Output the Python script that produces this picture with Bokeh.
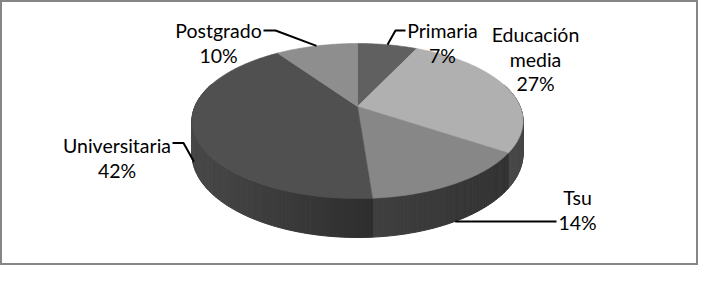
import numpy as np
from bokeh.plotting import figure
from bokeh.models import Range1d
from bokeh.core.properties import value
from bokeh.embed import file_html
from bokeh.resources import INLINE

# ---------------- data ----------------
categories = ["Primaria", "Educación media", "Tsu", "Universitaria", "Postgrado"]
shares = [7.0, 27.4, 14.4, 41.6, 9.6]

# ---------------- style ----------------
top_colors = ["#606060", "#b0b0b0", "#878787", "#505050", "#8e8e8e"]
side_left = ["#505050", "#4a4a4a", "#3f3f3f", "#484848", "#555555"]
side_right = ["#404040", "#464646", "#333333", "#2e2e2e", "#454545"]

label_pos = [(442, 30), (535, 34), (577, 197), (116.5, 145), (218, 30)]
line_gap = 24.5
leader_elbows = [[(405, 30), (395, 30)], None, [(556, 221)],
                 [(172, 142.5), (183, 142.5)], [(263, 30), (275, 30)]]
leader_depth = [0.0, 0.0, 1.0, 0.85, 0.0]

# pie projection (page pixels)
CX, CY = 357.0, 106.0
A, B = 162.6, 74.8
P = 0.187
D = 31.7


def proj(theta):
    u = np.sin(theta)
    v = np.cos(theta)
    k = 1.0 / (1.0 + P * v)
    return CX + A * u * k, CY - B * v * k, D * k, v


total = float(sum(shares))
fr = np.array(shares) / total
cum = np.concatenate([[0.0], np.cumsum(fr)])
angles = cum * 2 * np.pi

p = figure(width=698, height=265, x_range=Range1d(0, 698), y_range=Range1d(265, 0),
           output_backend="svg", toolbar_location=None, min_border=0)
p.axis.visible = False
p.grid.visible = False
p.outline_line_color = "#868686"
p.outline_line_width = 3
p.background_fill_color = "white"
p.border_fill_color = "white"


def hex2rgb(h):
    h = h.lstrip("#")
    return np.array([int(h[i:i + 2], 16) for i in (0, 2, 4)], dtype=float)


def rgb2hex(c):
    return "#%02x%02x%02x" % tuple(int(round(x)) for x in c)


# ---- sides ----
strips = []
for i in range(len(shares)):
    t0, t1 = angles[i], angles[i + 1]
    n = max(4, int((t1 - t0) / (2 * np.pi) * 360))
    th = np.linspace(t0, t1, n + 1)
    x, y, d, v = proj(th)
    vis = v < 0.3
    if not vis.any():
        continue
    xmin, xmax = x[vis].min(), x[vis].max()
    cl, cr = hex2rgb(side_left[i]), hex2rgb(side_right[i])
    for j in range(n):
        if not (vis[j] or vis[j + 1]):
            continue
        xm = 0.5 * (x[j] + x[j + 1])
        t = 0.0 if xmax == xmin else (xm - xmin) / (xmax - xmin)
        col = rgb2hex(cl + (cr - cl) * np.clip(t, 0, 1))
        strips.append((0.5 * (v[j] + v[j + 1]),
                       [x[j], x[j + 1], x[j + 1], x[j]],
                       [y[j], y[j + 1], y[j + 1] + d[j + 1], y[j] + d[j]], col))
strips.sort(key=lambda s: -s[0])
p.patches(xs=[s[1] for s in strips], ys=[s[2] for s in strips],
          fill_color=[s[3] for s in strips], line_color=[s[3] for s in strips],
          line_width=1)

# ---- top faces ----
txs, tys = [], []
for i in range(len(shares)):
    t0, t1 = angles[i], angles[i + 1]
    n = max(4, int((t1 - t0) / (2 * np.pi) * 360))
    th = np.linspace(t0, t1, n + 1)
    x, y, d, v = proj(th)
    txs.append([CX] + list(x))
    tys.append([CY] + list(y))
p.patches(xs=txs, ys=tys, fill_color=top_colors, line_color=top_colors, line_width=0.6)

# ---- leaders ----
for i in range(len(shares)):
    if leader_elbows[i] is None:
        continue
    mid = 0.5 * (angles[i] + angles[i + 1])
    ax, ay, ad, _ = proj(mid)
    pts = list(leader_elbows[i]) + [(float(ax), float(ay + ad * leader_depth[i]))]
    p.line(x=[q[0] for q in pts], y=[q[1] for q in pts], line_color="black", line_width=2)

# ---- labels ----
lx, ly, lt = [], [], []
for i, c in enumerate(categories):
    lines = c.split(" ") + ["%d%%" % int(round(fr[i] * 100))]
    for k, s in enumerate(lines):
        lx.append(label_pos[i][0])
        ly.append(label_pos[i][1] + k * line_gap)
        lt.append(s)
p.text(x=lx, y=ly, text=lt, text_font=value("Lato"), text_font_size="19.5px",
       text_align="center", text_baseline="alphabetic", text_color="black")

open("out.html", "w").write(file_html(p, INLINE))
